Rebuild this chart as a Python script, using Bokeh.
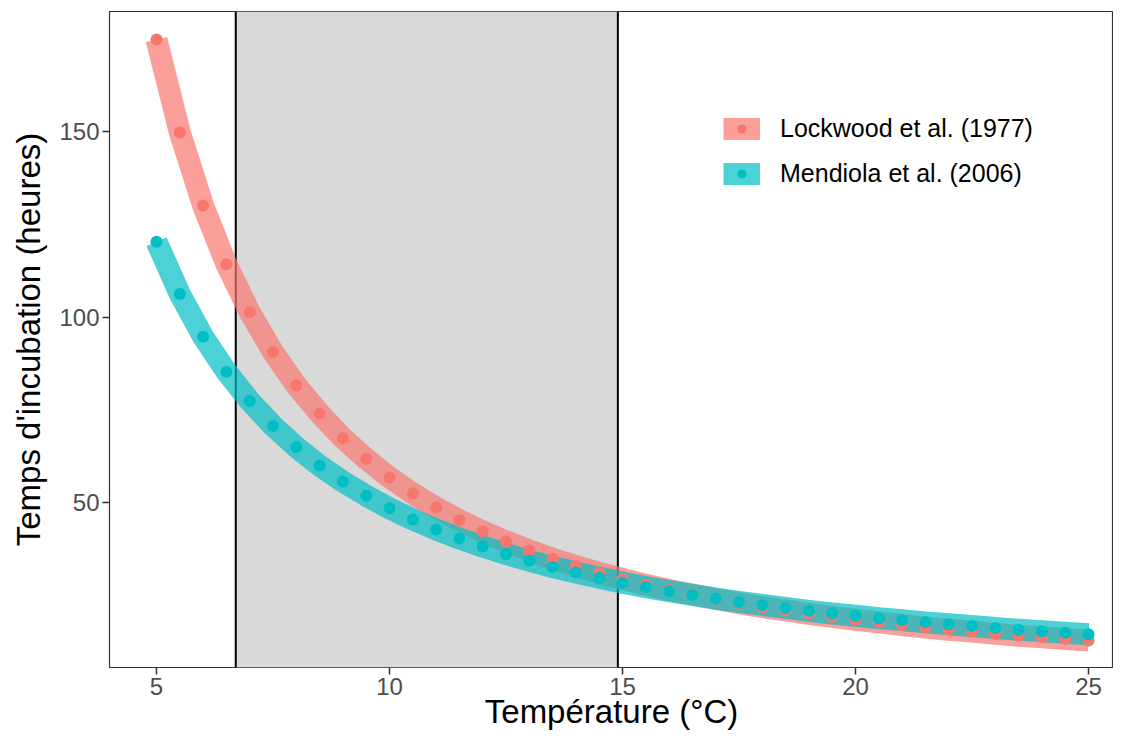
from bokeh.plotting import figure
from bokeh.models import (BoxAnnotation, Span, Legend, LegendItem, FixedTicker,
                          ColumnDataSource, Range1d)
from bokeh.embed import file_html
from bokeh.resources import INLINE

# ---- data ----
temperature = [5.0, 5.5, 6.0, 6.5, 7.0, 7.5, 8.0, 8.5, 9.0, 9.5, 10.0,
               10.5, 11.0, 11.5, 12.0, 12.5, 13.0, 13.5, 14.0, 14.5, 15.0,
               15.5, 16.0, 16.5, 17.0, 17.5, 18.0, 18.5, 19.0, 19.5, 20.0,
               20.5, 21.0, 21.5, 22.0, 22.5, 23.0, 23.5, 24.0, 24.5, 25.0]
lockwood = [174.7, 149.7, 130.0, 114.2, 101.3, 90.6, 81.6, 74.0, 67.4, 61.8, 56.8,
            52.5, 48.7, 45.3, 42.3, 39.6, 37.2, 34.9, 33.0, 31.1, 29.5,
            27.9, 26.5, 25.3, 24.1, 23.0, 21.9, 21.0, 20.1, 19.3, 18.5,
            17.8, 17.1, 16.4, 15.8, 15.3, 14.7, 14.2, 13.8, 13.3, 12.9]
mendiola = [120.3, 106.2, 94.7, 85.3, 77.4, 70.7, 65.0, 60.0, 55.7, 51.9, 48.5,
            45.5, 42.8, 40.4, 38.2, 36.2, 34.4, 32.7, 31.2, 29.8, 28.5,
            27.3, 26.2, 25.2, 24.2, 23.3, 22.5, 21.7, 20.9, 20.2, 19.6,
            18.9, 18.4, 17.8, 17.3, 16.8, 16.3, 15.8, 15.4, 15.0, 14.6]
series_names = ["Lockwood et al. (1977)", "Mendiola et al. (2006)"]
series_colors = ["#F8766D", "#00BFC4"]
temp_range = [6.7, 14.9]
x_ticks = [5, 10, 15, 20, 25]
y_ticks = [50, 100, 150]

FONT = "Liberation Sans"

p = figure(width=1113, height=732, output_backend="svg", toolbar_location=None,
           x_range=Range1d(3.991, 25.536), y_range=Range1d(5.65, 182.26),
           min_border_left=109, min_border_top=11, min_border_right=0,
           min_border_bottom=64)
p.background_fill_color = "white"
p.border_fill_color = "white"
p.outline_line_color = "#333333"
p.outline_line_width = 1.2
p.xgrid.visible = False
p.ygrid.visible = False

# shaded temperature range + boundaries
p.add_layout(BoxAnnotation(left=temp_range[0], right=temp_range[1],
                           fill_color="#D9D9D9", fill_alpha=1.0,
                           line_color=None, level="underlay"))
for loc in temp_range:
    p.add_layout(Span(location=loc, dimension="height", line_color="black",
                      line_width=2, level="underlay"))

series = [lockwood, mendiola]
line_renderers = []
for vals, col in zip(series, series_colors):
    src = ColumnDataSource(dict(x=temperature, y=vals))
    lr = p.line("x", "y", source=src, line_color=col, line_alpha=0.7,
                line_width=22, line_cap="butt", line_join="round")
    line_renderers.append(lr)
point_renderers = []
for vals, col in zip(series, series_colors):
    src = ColumnDataSource(dict(x=temperature, y=vals))
    pr = p.scatter("x", "y", source=src, size=12, fill_color=col,
                   line_color=None)
    point_renderers.append(pr)

items = [LegendItem(label=n, renderers=[lr, pr])
         for n, lr, pr in zip(series_names, line_renderers, point_renderers)]
legend = Legend(items=items, location=(614, 479), glyph_width=37,
                glyph_height=23, label_height=23, spacing=16,
                label_standoff=20, padding=0, margin=0,
                border_line_color=None, background_fill_alpha=0,
                label_text_font=FONT, label_text_font_size="25px",
                label_text_color="black")
p.add_layout(legend, "center")

for ax in (p.xaxis, p.yaxis):
    ax.axis_line_color = None
    ax.major_tick_out = 7
    ax.major_tick_in = 0
    ax.minor_tick_out = 0
    ax.minor_tick_in = 0
    ax.major_tick_line_color = "#333333"
    ax.major_tick_line_width = 1.5
    ax.major_label_text_font = FONT
    ax.major_label_text_font_size = "24px"
    ax.major_label_text_color = "#4D4D4D"
    ax.axis_label_text_font = FONT
    ax.axis_label_text_font_size = "33px"
    ax.axis_label_text_font_style = "normal"
    ax.axis_label_text_color = "black"

p.xaxis.ticker = FixedTicker(ticks=x_ticks)
p.yaxis.ticker = FixedTicker(ticks=y_ticks)
p.xaxis.axis_label = "Température (°C)"
p.yaxis.axis_label = "Temps d'incubation (heures)"
p.xaxis.major_label_standoff = 3
p.yaxis.major_label_standoff = 3
p.xaxis.axis_label_standoff = -5
p.yaxis.axis_label_standoff = 9

open("out.html", "w").write(file_html(p, INLINE))
